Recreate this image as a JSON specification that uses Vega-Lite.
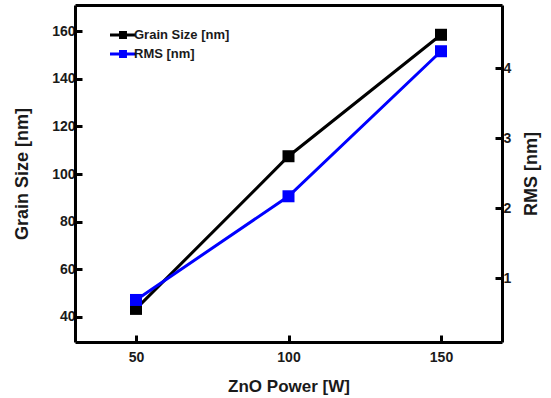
{
  "$schema": "https://vega.github.io/schema/vega-lite/v6.json",
  "autosize": {"type": "none"},
  "padding": {"left": 75, "top": 5, "right": 49, "bottom": 56},
  "width": 427,
  "height": 337,
  "background": "white",
  "config": {
    "font": "Liberation Sans",
    "view": {"stroke": null},
    "axis": {
      "grid": false,
      "domain": true,
      "domainColor": "black",
      "domainWidth": 3,
      "tickColor": "black",
      "tickWidth": 3,
      "tickSize": -7,
      "labelFont": "Liberation Sans",
      "labelFontWeight": "bold",
      "labelFontSize": 14,
      "labelColor": "#1a1a1a",
      "titleFont": "Liberation Sans",
      "titleFontWeight": "bold",
      "titleFontSize": 18,
      "titleColor": "#1a1a1a"
    }
  },
  "data": {
    "values": [
      {"power": 50, "series": "Grain Size [nm]", "value": 43.4},
      {"power": 100, "series": "Grain Size [nm]", "value": 107.5},
      {"power": 150, "series": "Grain Size [nm]", "value": 158.5},
      {"power": 50, "series": "RMS [nm]", "value": 0.69},
      {"power": 100, "series": "RMS [nm]", "value": 2.17},
      {"power": 150, "series": "RMS [nm]", "value": 4.24}
    ]
  },
  "encoding": {
    "color": {
      "field": "series",
      "type": "nominal",
      "scale": {"domain": ["Grain Size [nm]", "RMS [nm]"], "range": ["black", "#0000ff"]},
      "legend": {
        "orient": "none",
        "legendX": 40,
        "legendY": 22,
        "padding": 0,
        "title": null,
        "symbolType": "M-2,0L2,0M-0.38,-0.38L0.38,-0.38L0.38,0.38L-0.38,0.38Z",
        "symbolSize": 169,
        "symbolStrokeWidth": 3,
        "labelOffset": 3,
        "labelFont": "Liberation Sans",
        "labelFontWeight": "bold",
        "labelFontSize": 13,
        "labelColor": "#1a1a1a",
        "rowPadding": 1
      }
    }
  },
  "layer": [
    {
      "transform": [{"filter": "datum.series === 'Grain Size [nm]'"}],
      "encoding": {
        "x": {
          "field": "power",
          "type": "quantitative",
          "scale": {"domain": [30, 170], "nice": false, "zero": false},
          "axis": {"values": [50, 100, 150], "title": "ZnO Power [W]", "titleFontSize": 17, "labelPadding": 15, "titlePadding": 14}
        },
        "y": {
          "field": "value",
          "type": "quantitative",
          "scale": {"domain": [29.5, 171], "nice": false, "zero": false},
          "axis": {"values": [40, 60, 80, 100, 120, 140, 160], "title": "Grain Size [nm]", "orient": "left", "labelPadding": 7, "titlePadding": 20}
        }
      },
      "layer": [
        {"mark": {"type": "line", "strokeWidth": 3}},
        {"mark": {"type": "point", "shape": "square", "filled": true, "size": 144, "opacity": 1}}
      ]
    },
    {
      "transform": [{"filter": "datum.series === 'RMS [nm]'"}],
      "encoding": {
        "x": {
          "field": "power",
          "type": "quantitative",
          "axis": null
        },
        "y": {
          "field": "value",
          "type": "quantitative",
          "scale": {"domain": [0.09, 4.9], "nice": false, "zero": false},
          "axis": {"values": [1, 2, 3, 4], "title": "RMS [nm]", "orient": "right", "titleAngle": 270, "labelPadding": 8, "titlePadding": 30}
        }
      },
      "layer": [
        {"mark": {"type": "line", "strokeWidth": 3}},
        {"mark": {"type": "point", "shape": "square", "filled": true, "size": 144, "opacity": 1}}
      ]
    },
    {
      "mark": {"type": "point", "opacity": 0},
      "encoding": {
        "x": {
          "field": "power",
          "type": "quantitative",
          "axis": {"orient": "top", "title": null, "labels": false, "ticks": false}
        },
        "color": {"value": "black"}
      }
    }
  ],
  "resolve": {"scale": {"y": "independent"}, "axis": {"x": "independent"}}
}
